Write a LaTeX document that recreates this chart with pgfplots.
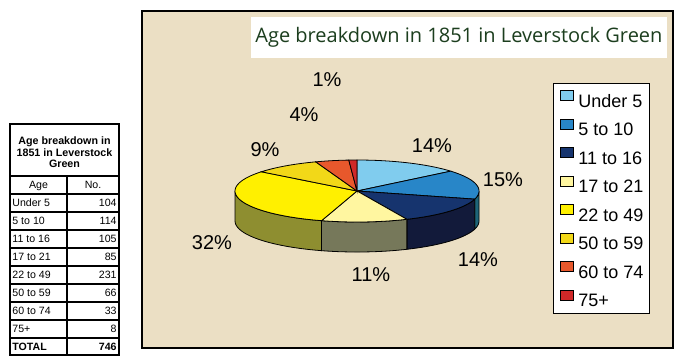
\documentclass[border=0pt]{standalone}
\usepackage{pgfplots}
\pgfplotsset{compat=1.18}
\usepackage{graphicx}
\usepackage{fontspec}
\setmainfont{Liberation Sans}
\newfontfamily\titlefont{Open Sans}
\definecolor{cA}{RGB}{128,204,238}
\definecolor{cB}{RGB}{40,134,200}
\definecolor{cC}{RGB}{22,52,110}
\definecolor{cD}{RGB}{255,246,160}
\definecolor{cE}{RGB}{255,240,0}
\definecolor{cF}{RGB}{242,216,24}
\definecolor{cG}{RGB}{232,88,44}
\definecolor{cH}{RGB}{208,40,40}
\definecolor{sB}{RGB}{30,100,120}
\definecolor{sC}{RGB}{18,26,58}
\definecolor{sD}{RGB}{118,120,90}
\definecolor{sE}{RGB}{142,142,48}
\definecolor{beige}{RGB}{235,223,196}
\definecolor{titlegreen}{RGB}{28,62,30}
% data: numbers per age group
\def\nA{104}\def\nB{114}\def\nC{105}\def\nD{85}
\def\nE{231}\def\nF{66}\def\nG{33}\def\nH{8}
\newcommand{\pietop}[3]{%
  \addplot[fill=#1, draw=black, line width=0.4pt, domain=#2:#3, samples=40, variable=\t]
    ({357+122*sin(\t)},{191-31*cos(\t)}) -- (axis cs:357,191) -- cycle;}
\newcommand{\pieside}[3]{%
  \addplot[fill=#1, draw=black, line width=0.4pt, forget plot, variable=\t,
    samples at={0,...,20,20.001,21,22,...,40}]
    ({357+122*sin(ifthenelse(\t<=20, #2+(#3-#2)*\t/20, #3-(#3-#2)*(\t-20)/20))},
     {191-31*cos(ifthenelse(\t<=20, #2+(#3-#2)*\t/20, #3-(#3-#2)*(\t-20)/20))+ifthenelse(\t<=20,0,30)}) -- cycle;}
\tikzset{
  tbl/.style={font=\fontsize{5.3}{6}\selectfont, inner sep=0pt},
  tblb/.style={font=\fontsize{5.3}{6}\selectfont\bfseries, inner sep=0pt},
  pct/.style={font=\fontsize{10}{12}\selectfont, inner sep=0pt},
}
\begin{document}
\begin{tikzpicture}
\pgfmathsetmacro\tot{\nA+\nB+\nC+\nD+\nE+\nF+\nG+\nH}
\pgfmathsetmacro\aB{(\nA)/\tot*360}
\pgfmathsetmacro\aC{(\nA+\nB)/\tot*360}
\pgfmathsetmacro\aD{(\nA+\nB+\nC)/\tot*360}
\pgfmathsetmacro\aE{(\nA+\nB+\nC+\nD)/\tot*360}
\pgfmathsetmacro\aF{(\nA+\nB+\nC+\nD+\nE)/\tot*360}
\pgfmathsetmacro\aG{(\nA+\nB+\nC+\nD+\nE+\nF)/\tot*360}
\pgfmathsetmacro\aH{(\nA+\nB+\nC+\nD+\nE+\nF+\nG)/\tot*360}
\begin{axis}[width=342pt, height=180.5pt, scale only axis,
  xmin=0, xmax=684, ymin=0, ymax=361, y dir=reverse,
  hide axis, clip=false,
  legend cell align=left,
  legend image code/.code={\draw[#1] (0pt,0pt) rectangle (6.5pt,5pt); \path (9pt,0pt);},
  legend style={at={(axis cs:553,83)}, anchor=north west, draw=black, line width=0.6pt,
    fill=white, font=\fontsize{9}{10}\selectfont, inner xsep=3pt, inner ysep=3.3pt,
    row sep=5.8pt, nodes={inner sep=0pt, text height=6.5pt, text depth=0pt}},
]
\fill[white] (axis cs:0,0) rectangle (axis cs:684,361);
\draw[line width=0.8pt, fill=beige] (axis cs:142,11) rectangle (axis cs:673,348);
\fill[white] (axis cs:251,17) rectangle (axis cs:667,58);
\node[anchor=base west, text=titlegreen, inner sep=0pt] at (axis cs:255,42)
  {\resizebox{203.5pt}{!}{\titlefont Age breakdown in 1851 in Leverstock Green}};
% pie sides (front half)
\pieside{sB}{90}{\aC}
\pieside{sC}{\aC}{\aD}
\pieside{sD}{\aD}{\aE}
\pieside{sE}{\aE}{270}
% pie tops
\pietop{cA}{0}{\aB}   \addlegendentry{Under 5}
\pietop{cB}{\aB}{\aC} \addlegendentry{5 to 10}
\pietop{cC}{\aC}{\aD} \addlegendentry{11 to 16}
\pietop{cD}{\aD}{\aE} \addlegendentry{17 to 21}
\pietop{cE}{\aE}{\aF} \addlegendentry{22 to 49}
\pietop{cF}{\aF}{\aG} \addlegendentry{50 to 59}
\pietop{cG}{\aG}{\aH} \addlegendentry{60 to 74}
\pietop{cH}{\aH}{360} \addlegendentry{75+}
% percentage labels
\node[pct] at (axis cs:432,146) {14\%};
\node[pct] at (axis cs:503,180) {15\%};
\node[pct] at (axis cs:478,260) {14\%};
\node[pct] at (axis cs:371,275) {11\%};
\node[pct] at (axis cs:212,243) {32\%};
\node[pct] at (axis cs:265,150) {9\%};
\node[pct] at (axis cs:304,115) {4\%};
\node[pct] at (axis cs:327,80) {1\%};
% table on the left
\draw[line width=0.8pt] (axis cs:10,124) rectangle (axis cs:119,355);
\draw[line width=0.8pt] (axis cs:67,176) -- (axis cs:67,355);
\draw[line width=0.8pt] (axis cs:10,176) -- (axis cs:119,176);
\draw[line width=0.8pt] (axis cs:10,194) -- (axis cs:119,194);
\draw[line width=0.8pt] (axis cs:10,212) -- (axis cs:119,212);
\draw[line width=0.8pt] (axis cs:10,230) -- (axis cs:119,230);
\draw[line width=0.8pt] (axis cs:10,248) -- (axis cs:119,248);
\draw[line width=0.8pt] (axis cs:10,266) -- (axis cs:119,266);
\draw[line width=0.8pt] (axis cs:10,284) -- (axis cs:119,284);
\draw[line width=0.8pt] (axis cs:10,302) -- (axis cs:119,302);
\draw[line width=0.8pt] (axis cs:10,320) -- (axis cs:119,320);
\draw[line width=0.8pt] (axis cs:10,338) -- (axis cs:119,338);
\node[align=center, inner sep=0pt, font=\fontsize{5.35}{5.75}\selectfont\bfseries]
  at (axis cs:64.5,152.5) {Age breakdown in\\1851 in Leverstock\\Green};
\node[tbl, anchor=base] at (axis cs:38.5,188.6) {Age};
\node[tbl, anchor=base] at (axis cs:93,188.6) {No.};
\node[tbl, anchor=base west] at (axis cs:12,206.6) {Under 5};
\node[tbl, anchor=base west] at (axis cs:12,224.6) {5 to 10};
\node[tbl, anchor=base west] at (axis cs:12,242.6) {11 to 16};
\node[tbl, anchor=base west] at (axis cs:12,260.6) {17 to 21};
\node[tbl, anchor=base west] at (axis cs:12,278.6) {22 to 49};
\node[tbl, anchor=base west] at (axis cs:12,296.6) {50 to 59};
\node[tbl, anchor=base west] at (axis cs:12,314.6) {60 to 74};
\node[tbl, anchor=base west] at (axis cs:12,332.6) {75+};
\node[tblb, anchor=base west] at (axis cs:12,350.6) {TOTAL};
\node[tbl, anchor=base east] at (axis cs:117,206.6) {104};
\node[tbl, anchor=base east] at (axis cs:117,224.6) {114};
\node[tbl, anchor=base east] at (axis cs:117,242.6) {105};
\node[tbl, anchor=base east] at (axis cs:117,260.6) {85};
\node[tbl, anchor=base east] at (axis cs:117,278.6) {231};
\node[tbl, anchor=base east] at (axis cs:117,296.6) {66};
\node[tbl, anchor=base east] at (axis cs:117,314.6) {33};
\node[tbl, anchor=base east] at (axis cs:117,332.6) {8};
\node[tblb, anchor=base east] at (axis cs:117,350.6) {746};
\end{axis}
\end{tikzpicture}
\end{document}
